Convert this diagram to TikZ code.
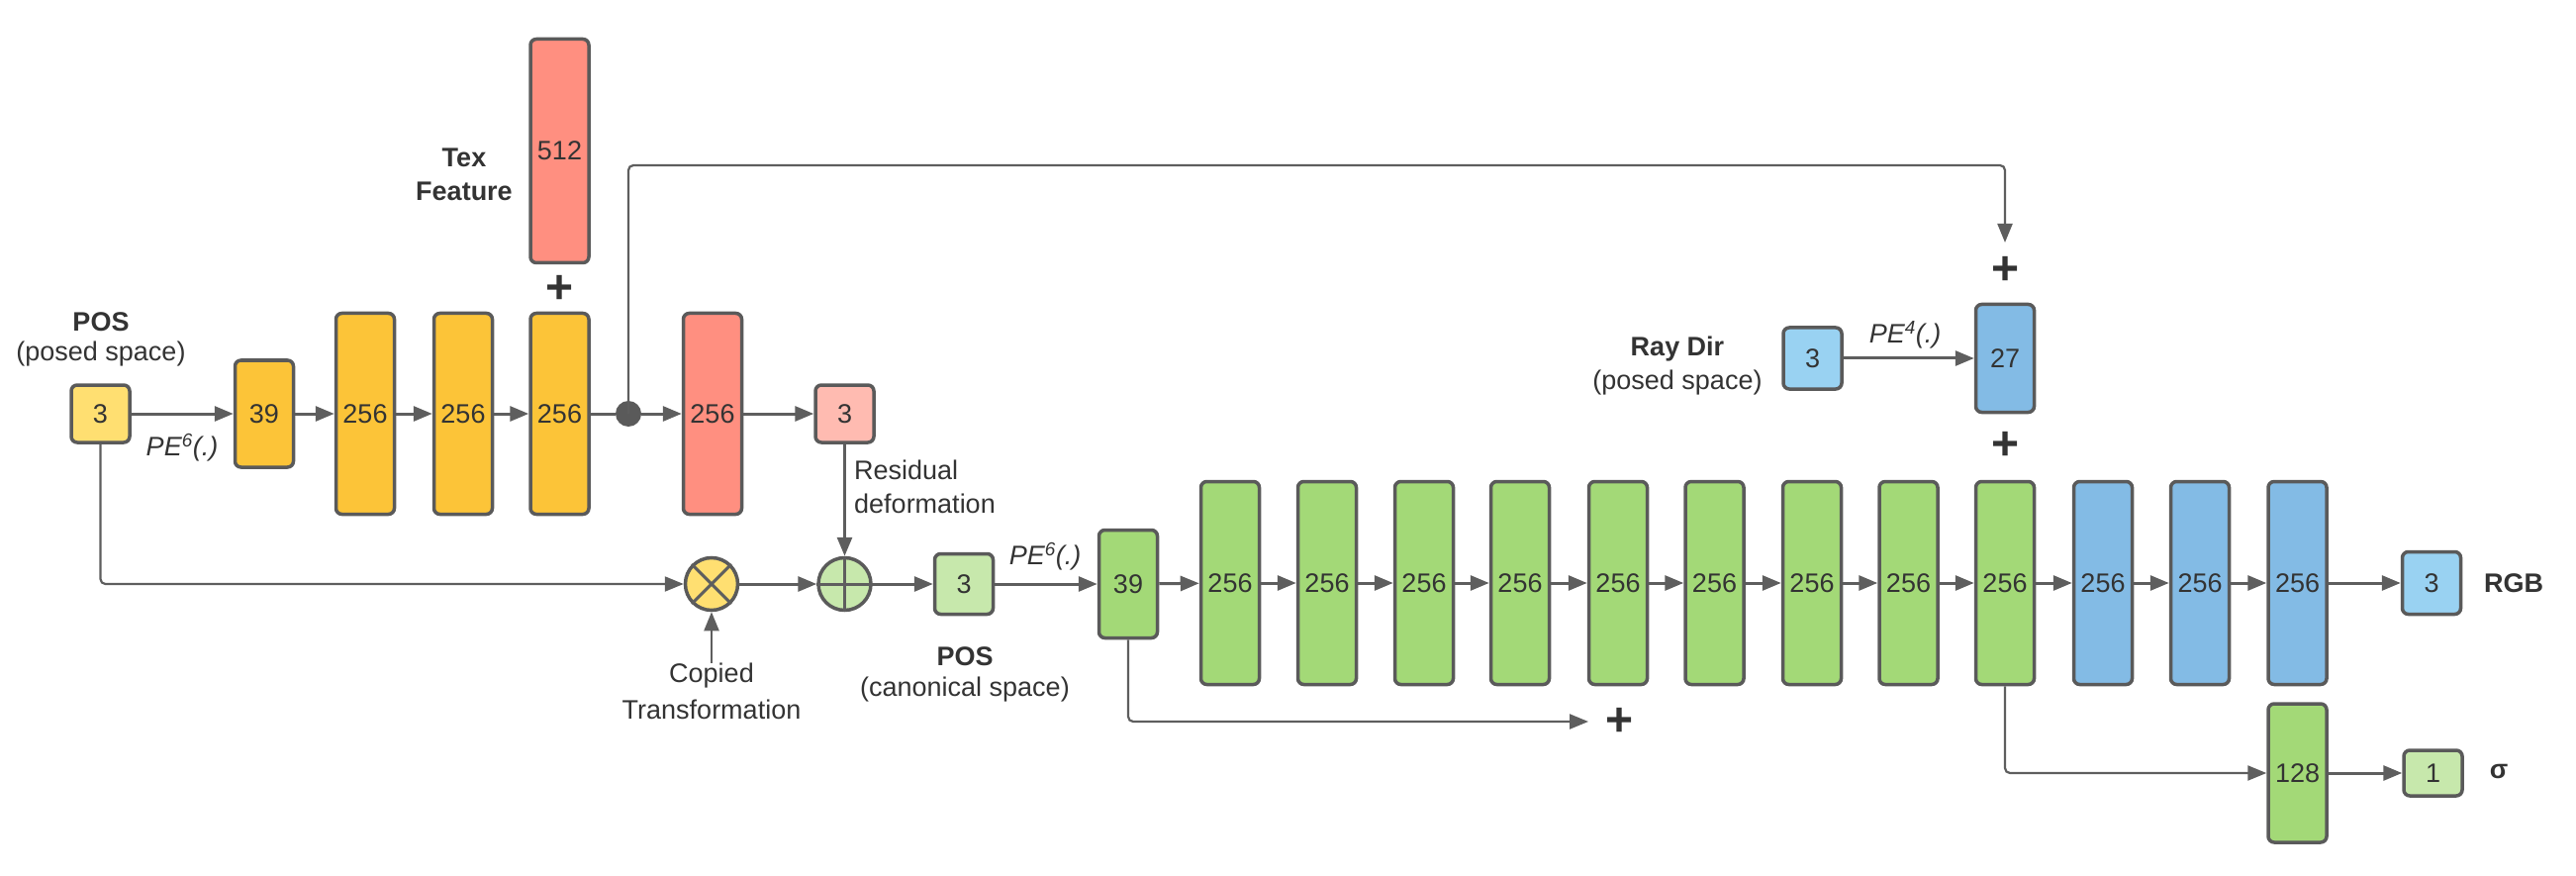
\documentclass[tikz,border=0pt]{standalone}
\usepackage{fontspec}
\setmainfont{Liberation Sans}
\usetikzlibrary{arrows.meta}
\definecolor{cYin}{HTML}{FFDF71}
\definecolor{cYel}{HTML}{FCC438}
\definecolor{cRed}{HTML}{FF8F80}
\definecolor{cPink}{HTML}{FFBBB1}
\definecolor{cGreen}{HTML}{A3D977}
\definecolor{cLGreen}{HTML}{C7E8AC}
\definecolor{cBlue}{HTML}{83BBE5}
\definecolor{cLBlue}{HTML}{99D2F2}
\definecolor{cBorder}{HTML}{5A5A5A}
\definecolor{cLine}{HTML}{5E5E5E}
\definecolor{cText}{HTML}{333333}
\tikzset{
  box/.style={draw=cBorder, line width=3.5pt, rounded corners=6pt, inner sep=0pt,
    minimum width=59pt, font=\fontsize{27}{32}\selectfont, text=cText},
  opcirc/.style={draw=cBorder, circle, line width=3.5pt, minimum size=53pt, inner sep=0pt},
  arr/.style={draw=cLine, line width=3pt, -{Triangle[length=19pt,width=15pt]}},
  plainline/.style={draw=cLine, line width=3pt},
  skiparr/.style={draw=cLine, line width=2.2pt, rounded corners=5pt, -{Triangle[length=19pt,width=15pt]}},
  lbl/.style={font=\fontsize{27}{32}\selectfont, text=cText, inner sep=0pt},
  blbl/.style={font=\fontsize{27}{32}\selectfont\bfseries, text=cText, inner sep=0pt},
  ilbl/.style={font=\fontsize{27}{32}\selectfont\itshape, text=cText, inner sep=0pt},
  plus/.style={font=\fontsize{48}{48}\selectfont\bfseries, text=cText, inner sep=0pt},
  dotst/.style={circle, fill=cBorder, minimum size=26pt, inner sep=0pt}
}
\begin{document}
\begin{tikzpicture}[x=1pt,y=-1pt]
\useasboundingbox (0,0) rectangle (2603,885);

% ---- first row (posed space) ----
\node[box, fill=cYin, minimum height=58pt] (in) at (101.5,418) {3};
\node[box, fill=cYel, minimum height=108pt] (e0) at (267,418) {39};
\node[box, fill=cYel, minimum height=203pt] (y1) at (369,418) {256};
\node[box, fill=cYel, minimum height=203pt] (y2) at (468,418) {256};
\node[box, fill=cYel, minimum height=203pt] (y3) at (565.5,418) {256};
\node[box, fill=cRed, minimum height=226pt] (tex) at (565.5,152.5) {512};
\node[dotst] (dot) at (635,418) {};
\node[box, fill=cRed, minimum height=203pt] (r1) at (720,418) {256};
\node[box, fill=cPink, minimum height=58pt] (res) at (853.5,418) {3};

\node[plus] (p1) at (565.5,292) {+};
\node[blbl] (texA) at (469,159) {Tex};
\node[blbl] (texB) at (469,193) {Feature};
\node[blbl] (posA) at (102,325) {POS};
\node[lbl] (posB) at (102,358) {(posed space)};
\node[ilbl] (pe1) at (184,452) {PE\textsuperscript{6}(.)};

\draw[arr] (in) -- (e0);
\draw[arr] (e0) -- (y1);
\draw[arr] (y1) -- (y2);
\draw[arr] (y2) -- (y3);
\draw[plainline] (y3) -- (dot);
\draw[arr] (dot) -- (r1);
\draw[arr] (r1) -- (res);

% ---- skip to view-direction branch ----
\coordinate (tl) at (635,167);
\coordinate (tr) at (2026,167);
\coordinate (topend) at (2026,245);
\draw[skiparr] (dot.center) -- (tl) -- (tr) -- (topend);

% ---- deformation ----
\node[opcirc, fill=cYin] (ot) at (719,590) {};
\draw[plainline] (ot.north east) -- (ot.south west);
\draw[plainline] (ot.north west) -- (ot.south east);
\node[opcirc, fill=cLGreen] (op) at (853.5,590) {};
\draw[plainline] (op.north) -- (op.south);
\draw[plainline] (op.west) -- (op.east);

\node[lbl, anchor=west] (resA) at (863,475) {Residual};
\node[lbl, anchor=west] (resB) at (863,509) {deformation};
\node[lbl] (copA) at (719,683) {Copied};
\node[lbl] (copB) at (719,717) {Transformation};

\draw[skiparr] (in.south) |- (ot.west);
\draw[arr] (res) -- (op);
\draw[arr, line width=2.2pt] (copA.north) -- (ot.south);
\draw[arr] (ot) -- (op);

% ---- canonical MLP ----
\node[box, fill=cLGreen, minimum height=61pt] (can) at (974,590) {3};
\node[blbl] (posC) at (975,663) {POS};
\node[lbl] (posD) at (975,697) {(canonical space)};
\node[ilbl] (pe2) at (1056,562) {PE\textsuperscript{6}(.)};
\node[box, fill=cGreen, minimum height=109pt] (e1) at (1140,590) {39};

\node[box, fill=cGreen, minimum height=205pt] (g1) at (1243,589) {256};
\node[box, fill=cGreen, minimum height=205pt] (g2) at (1341,589) {256};
\node[box, fill=cGreen, minimum height=205pt] (g3) at (1439,589) {256};
\node[box, fill=cGreen, minimum height=205pt] (g4) at (1536,589) {256};
\node[box, fill=cGreen, minimum height=205pt] (g5) at (1635,589) {256};
\node[box, fill=cGreen, minimum height=205pt] (g6) at (1732.5,589) {256};
\node[box, fill=cGreen, minimum height=205pt] (g7) at (1831,589) {256};
\node[box, fill=cGreen, minimum height=205pt] (g8) at (1928.5,589) {256};
\node[box, fill=cGreen, minimum height=205pt] (g9) at (2026,589) {256};
\node[box, fill=cBlue, minimum height=205pt] (b1) at (2125,589) {256};
\node[box, fill=cBlue, minimum height=205pt] (b2) at (2223,589) {256};
\node[box, fill=cBlue, minimum height=205pt] (b3) at (2321.5,589) {256};
\node[box, fill=cLBlue, minimum height=63pt] (rgb) at (2457,589) {3};
\node[blbl] (rgbl) at (2540,589) {RGB};

\node[box, fill=cGreen, minimum height=140pt] (s128) at (2321.5,781) {128};
\node[box, fill=cLGreen, minimum height=46pt] (sig) at (2458.5,781) {1};
\node[blbl] (sigl) at (2525,779) {σ};

\draw[arr] (op) -- (can);
\draw[arr] (can) -- (e1);
\draw[arr] (e1) -- (g1);
\draw[arr] (g1) -- (g2);
\draw[arr] (g2) -- (g3);
\draw[arr] (g3) -- (g4);
\draw[arr] (g4) -- (g5);
\draw[arr] (g5) -- (g6);
\draw[arr] (g6) -- (g7);
\draw[arr] (g7) -- (g8);
\draw[arr] (g8) -- (g9);
\draw[arr] (g9) -- (b1);
\draw[arr] (b1) -- (b2);
\draw[arr] (b2) -- (b3);
\draw[arr] (b3) -- (rgb);

\coordinate (plend) at (1605,729);
\node[plus] (p4) at (1636,729) {+};
\draw[skiparr] (e1.south) |- (plend);
\draw[skiparr] (g9.south) |- (s128.west);
\draw[arr] (s128) -- (sig);

% ---- view direction ----
\node[box, fill=cLBlue, minimum height=62pt] (ray) at (1831.5,362) {3};
\node[box, fill=cBlue, minimum height=109pt] (v27) at (2026,362) {27};
\node[blbl] (rayA) at (1695,353) {Ray Dir};
\node[lbl] (rayB) at (1695,387) {(posed space)};
\node[ilbl] (pe3) at (1925,338) {PE\textsuperscript{4}(.)};
\draw[arr] (ray) -- (v27);
\node[plus] (p2) at (2026,273) {+};
\node[plus] (p3) at (2026,450) {+};
\end{tikzpicture}
\end{document}
